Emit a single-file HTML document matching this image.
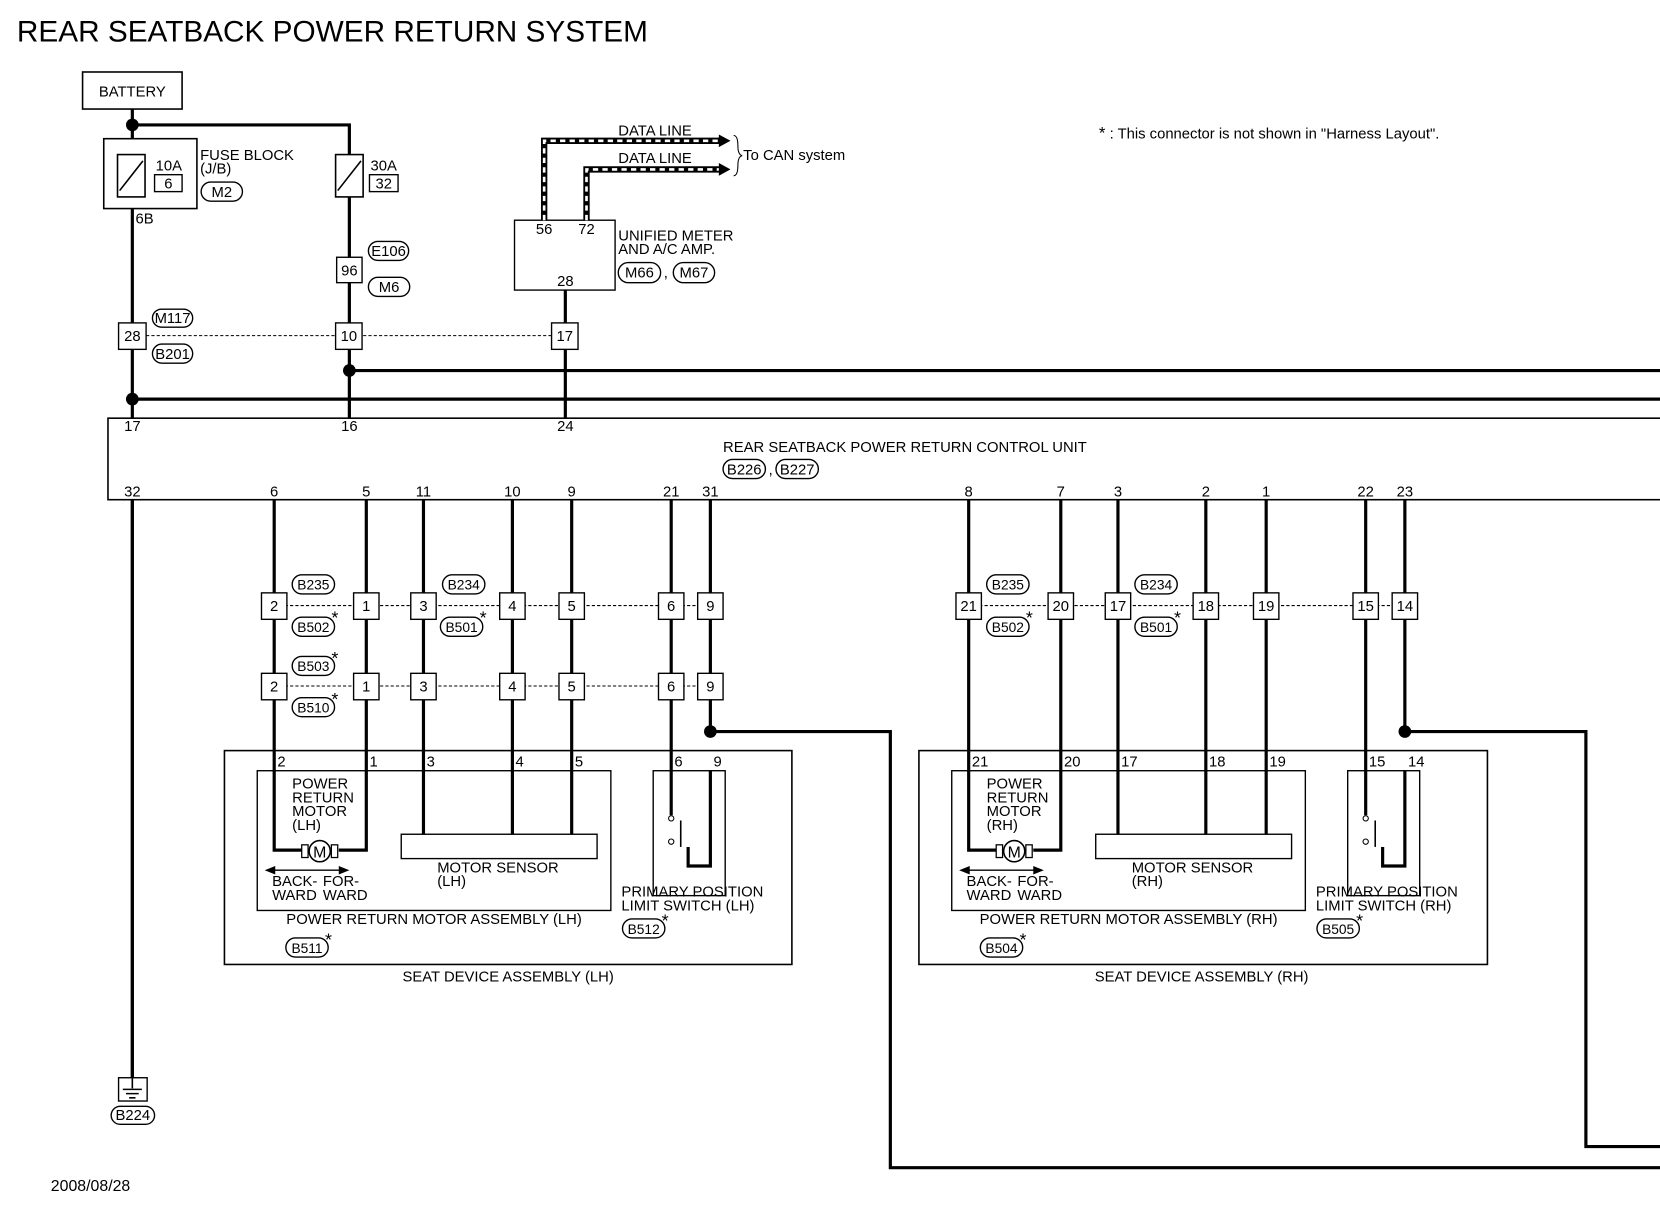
<!DOCTYPE html>
<html><head><meta charset="utf-8"><style>
html,body{margin:0;padding:0;background:#fff}
svg{display:block}
text{font-family:"Liberation Sans",sans-serif;fill:#000}
</style></head><body>
<svg width="1660" height="1216" viewBox="0 0 1568 1148.6" preserveAspectRatio="none" xmlns="http://www.w3.org/2000/svg">
<g font-size="14">
<text x="16" y="39" font-size="28" textLength="596" lengthAdjust="spacingAndGlyphs">REAR SEATBACK POWER RETURN SYSTEM</text>
<!-- battery -->
<rect x="78" y="68" width="94" height="35" fill="none" stroke="#000" stroke-width="1.5"/>
<text x="125" y="91" text-anchor="middle">BATTERY</text>
<g stroke="#000" stroke-width="3" fill="none">
<path d="M125 103 V1018"/>
<path d="M125 118 H330 V395"/>
<path d="M330 350 H1568"/>
<path d="M125 377 H1568"/>
<path d="M534 274 V395"/>
<path d="M671 472 V691 H841 V1103 H1568"/>
<path d="M1327 472 V691 H1498 V1083 H1568"/>
</g>
<circle cx="125" cy="118" r="6"/><circle cx="330" cy="350" r="6"/><circle cx="125" cy="377" r="6"/>
<circle cx="671" cy="691" r="6"/><circle cx="1327" cy="691" r="6"/>
<!-- fuse block -->
<rect x="98" y="131" width="88" height="66" fill="#fff" stroke="#000" stroke-width="1.5"/>
<rect x="111" y="146" width="26" height="40" fill="#fff" stroke="#000" stroke-width="1.5"/>
<line x1="113" y1="180" x2="135" y2="152" stroke="#000" stroke-width="1.5"/>
<text x="147" y="161">10A</text>
<rect x="146" y="165" width="26" height="16" fill="none" stroke="#000" stroke-width="1.3"/><text x="159" y="178" text-anchor="middle">6</text>
<text x="189" y="151">FUSE BLOCK</text><text x="189" y="164">(J/B)</text>
<rect x="190" y="172" width="39" height="18" rx="9" fill="none" stroke="#000" stroke-width="1.3"/><text x="209.5" y="186" text-anchor="middle">M2</text>
<text x="128" y="211">6B</text>
<rect x="317" y="146" width="26" height="40" fill="#fff" stroke="#000" stroke-width="1.5"/>
<line x1="319" y1="180" x2="341" y2="152" stroke="#000" stroke-width="1.5"/>
<text x="350" y="161">30A</text>
<rect x="349" y="165" width="27" height="16" fill="none" stroke="#000" stroke-width="1.3"/><text x="362.5" y="178" text-anchor="middle">32</text>
<rect x="318" y="243" width="24" height="24" fill="#fff" stroke="#000" stroke-width="1.3"/><text x="330" y="260" text-anchor="middle">96</text>
<rect x="348" y="228" width="38" height="18" rx="9" fill="none" stroke="#000" stroke-width="1.3"/><text x="367" y="242" text-anchor="middle">E106</text>
<rect x="348" y="262" width="39" height="18" rx="9" fill="none" stroke="#000" stroke-width="1.3"/><text x="367.5" y="276" text-anchor="middle">M6</text>
<!-- row 317 -->
<line x1="138" y1="317" x2="521" y2="317" stroke="#000" stroke-width="1" stroke-dasharray="3,2"/>
<rect x="112" y="305" width="26" height="25" fill="#fff" stroke="#000" stroke-width="1.3"/><text x="125" y="322" text-anchor="middle">28</text>
<rect x="317" y="305" width="25" height="25" fill="#fff" stroke="#000" stroke-width="1.3"/><text x="329.5" y="322" text-anchor="middle">10</text>
<rect x="521" y="305" width="25" height="25" fill="#fff" stroke="#000" stroke-width="1.3"/><text x="533.5" y="322" text-anchor="middle">17</text>
<rect x="144" y="292" width="38" height="17" rx="8.5" fill="none" stroke="#000" stroke-width="1.3"/><text x="163" y="305" text-anchor="middle">M117</text>
<rect x="144" y="325" width="38" height="18" rx="9" fill="none" stroke="#000" stroke-width="1.3"/><text x="163" y="339" text-anchor="middle">B201</text>
<!-- unified meter -->
<rect x="486" y="208" width="95" height="66" fill="#fff" stroke="#000" stroke-width="1.3"/>
<text x="514" y="221" text-anchor="middle">56</text><text x="554" y="221" text-anchor="middle">72</text><text x="534" y="270" text-anchor="middle">28</text>
<text x="584" y="227">UNIFIED METER</text><text x="584" y="240">AND A/C AMP.</text>
<rect x="584" y="248" width="40" height="19" rx="9.5" fill="none" stroke="#000" stroke-width="1.3"/><text x="604" y="262" text-anchor="middle">M66</text>
<text x="627" y="262">,</text>
<rect x="636" y="248" width="39" height="19" rx="9.5" fill="none" stroke="#000" stroke-width="1.3"/><text x="655.5" y="262" text-anchor="middle">M67</text>
<!-- data lines -->
<path d="M514 208 V133 H680" fill="none" stroke="#000" stroke-width="6"/>
<path d="M514 208 V133 H680" fill="none" stroke="#fff" stroke-width="2.5" stroke-dasharray="5,4"/>
<path d="M554 208 V160 H680" fill="none" stroke="#000" stroke-width="6"/>
<path d="M554 208 V160 H680" fill="none" stroke="#fff" stroke-width="2.5" stroke-dasharray="5,4"/>
<path d="M679 127 L690 133 L679 139 z"/><path d="M679 154 L690 160 L679 166 z"/>
<text x="584" y="128">DATA LINE</text><text x="584" y="154">DATA LINE</text>
<path d="M693 128 Q697 128 697 138 Q697 146 701 147 Q697 148 697 156 Q697 166 693 166" fill="none" stroke="#000" stroke-width="1"/>
<text x="702" y="151">To CAN system</text>
<text x="1038" y="131"><tspan font-size="16">*</tspan> : This connector is not shown in "Harness Layout".</text>
<!-- control unit -->
<rect x="102" y="395" width="1480" height="77" fill="#fff" stroke="#000" stroke-width="1.5"/>
<text x="125" y="407" text-anchor="middle">17</text><text x="330" y="407" text-anchor="middle">16</text><text x="534" y="407" text-anchor="middle">24</text>
<text x="683" y="427">REAR SEATBACK POWER RETURN CONTROL UNIT</text>
<rect x="683" y="434" width="40" height="18" rx="9" fill="none" stroke="#000" stroke-width="1.3"/><text x="703" y="448" text-anchor="middle">B226</text>
<text x="726" y="448">,</text>
<rect x="733" y="434" width="40" height="18" rx="9" fill="none" stroke="#000" stroke-width="1.3"/><text x="753" y="448" text-anchor="middle">B227</text>
<g text-anchor="middle">
<text x="125" y="469">32</text><text x="259" y="469">6</text><text x="346" y="469">5</text><text x="400" y="469">11</text><text x="484" y="469">10</text><text x="540" y="469">9</text><text x="634" y="469">21</text><text x="671" y="469">31</text>
<text x="915" y="469">8</text><text x="1002" y="469">7</text><text x="1056" y="469">3</text><text x="1139" y="469">2</text><text x="1196" y="469">1</text><text x="1290" y="469">22</text><text x="1327" y="469">23</text>
</g>
<!-- ground -->
<path d="M125 472 V1018" stroke="#000" stroke-width="3"/>
<rect x="112" y="1018" width="27" height="22" fill="#fff" stroke="#000" stroke-width="1.3"/>
<path d="M125 1018 V1028 M116 1029 H134 M119 1033 H131 M122 1037 H128" stroke="#000" stroke-width="1.5"/>
<rect x="105" y="1045" width="41" height="17" rx="8.5" fill="none" stroke="#000" stroke-width="1.3"/><text x="125.5" y="1058" text-anchor="middle">B224</text>
<text x="48" y="1125" font-size="15">2008/08/28</text>

<g stroke="#000" stroke-width="3" fill="none">
<path d="M259 472 V803 H285"/><path d="M346 472 V803 H320"/>
<path d="M400 472 V788"/><path d="M484 472 V788"/><path d="M540 472 V788"/>
<path d="M634 472 V770"/>
<path d="M915 472 V803 H941"/><path d="M1002 472 V803 H976"/>
<path d="M1056 472 V788"/><path d="M1139 472 V788"/><path d="M1196 472 V788"/>
<path d="M1290 472 V770"/>
</g>
<g stroke="#000" stroke-width="1" stroke-dasharray="3,2">
<line x1="259" y1="572" x2="671" y2="572"/><line x1="259" y1="648" x2="671" y2="648"/>
<line x1="915" y1="572" x2="1327" y2="572"/>
</g>
<g fill="#fff" stroke="#000" stroke-width="1.3">
<rect x="247" y="560" width="24" height="25"/><rect x="334" y="560" width="24" height="25"/><rect x="388" y="560" width="24" height="25"/><rect x="472" y="560" width="24" height="25"/><rect x="528" y="560" width="24" height="25"/><rect x="622" y="560" width="24" height="25"/><rect x="659" y="560" width="24" height="25"/>
<rect x="247" y="636" width="24" height="25"/><rect x="334" y="636" width="24" height="25"/><rect x="388" y="636" width="24" height="25"/><rect x="472" y="636" width="24" height="25"/><rect x="528" y="636" width="24" height="25"/><rect x="622" y="636" width="24" height="25"/><rect x="659" y="636" width="24" height="25"/>
<rect x="903" y="560" width="24" height="25"/><rect x="990" y="560" width="24" height="25"/><rect x="1044" y="560" width="24" height="25"/><rect x="1127" y="560" width="24" height="25"/><rect x="1184" y="560" width="24" height="25"/><rect x="1278" y="560" width="24" height="25"/><rect x="1315" y="560" width="24" height="25"/>
</g>
<g text-anchor="middle">
<text x="259" y="577">2</text><text x="346" y="577">1</text><text x="400" y="577">3</text><text x="484" y="577">4</text><text x="540" y="577">5</text><text x="634" y="577">6</text><text x="671" y="577">9</text>
<text x="259" y="653">2</text><text x="346" y="653">1</text><text x="400" y="653">3</text><text x="484" y="653">4</text><text x="540" y="653">5</text><text x="634" y="653">6</text><text x="671" y="653">9</text>
<text x="915" y="577">21</text><text x="1002" y="577">20</text><text x="1056" y="577">17</text><text x="1139" y="577">18</text><text x="1196" y="577">19</text><text x="1290" y="577">15</text><text x="1327" y="577">14</text>
</g>
<g fill="none" stroke="#000" stroke-width="1.3">
<rect x="276" y="543" width="40" height="18" rx="9"/><rect x="276" y="583" width="40" height="18" rx="9"/><rect x="418" y="543" width="40" height="18" rx="9"/><rect x="416" y="583" width="40" height="18" rx="9"/>
<rect x="276" y="620" width="40" height="18" rx="9"/><rect x="276" y="659" width="40" height="18" rx="9"/>
<rect x="932" y="543" width="40" height="18" rx="9"/><rect x="932" y="583" width="40" height="18" rx="9"/><rect x="1072" y="543" width="40" height="18" rx="9"/><rect x="1072" y="583" width="40" height="18" rx="9"/>
</g>
<g text-anchor="middle" font-size="13">
<text x="296" y="557">B235</text><text x="296" y="597">B502</text><text x="438" y="557">B234</text><text x="436" y="597">B501</text>
<text x="296" y="634">B503</text><text x="296" y="673">B510</text>
<text x="952" y="557">B235</text><text x="952" y="597">B502</text><text x="1092" y="557">B234</text><text x="1092" y="597">B501</text>
</g>
<g font-size="17">
<text x="313" y="589">*</text><text x="453" y="589">*</text><text x="313" y="627">*</text><text x="313" y="666">*</text>
<text x="969" y="589">*</text><text x="1109" y="589">*</text>
</g>

<g>
<rect x="212" y="709" width="536" height="202" fill="none" stroke="#000" stroke-width="1.5"/>
<rect x="243" y="728" width="334" height="132" fill="none" stroke="#000" stroke-width="1.3"/>
<rect x="379" y="788" width="185" height="23" fill="#fff" stroke="#000" stroke-width="1.3"/>
<rect x="617" y="728" width="68" height="118" fill="none" stroke="#000" stroke-width="1.3"/>
<circle cx="302" cy="804" r="10" fill="#fff" stroke="#000" stroke-width="1.5"/>
<rect x="285" y="798" width="6" height="12" fill="#fff" stroke="#000" stroke-width="1.2"/><rect x="313" y="798" width="6" height="12" fill="#fff" stroke="#000" stroke-width="1.2"/>
<text x="302" y="810" text-anchor="middle" font-size="15">M</text>
<line x1="258" y1="822" x2="322" y2="822" stroke="#000" stroke-width="1.3"/>
<path d="M250 822 L260 818 L260 826 z M330 822 L320 818 L320 826 z"/>
<circle cx="634" cy="773" r="2.5" fill="#fff" stroke="#000"/><circle cx="634" cy="795" r="2.5" fill="#fff" stroke="#000"/>
<path d="M643 775 V800" stroke="#000" stroke-width="1.5"/>
<path d="M671 728 V818 H650 V800" fill="none" stroke="#000" stroke-width="3"/>
</g>
<g transform="translate(656,0)">
<rect x="212" y="709" width="537" height="202" fill="none" stroke="#000" stroke-width="1.5"/>
<rect x="243" y="728" width="334" height="132" fill="none" stroke="#000" stroke-width="1.3"/>
<rect x="379" y="788" width="185" height="23" fill="#fff" stroke="#000" stroke-width="1.3"/>
<rect x="617" y="728" width="68" height="118" fill="none" stroke="#000" stroke-width="1.3"/>
<circle cx="302" cy="804" r="10" fill="#fff" stroke="#000" stroke-width="1.5"/>
<rect x="285" y="798" width="6" height="12" fill="#fff" stroke="#000" stroke-width="1.2"/><rect x="313" y="798" width="6" height="12" fill="#fff" stroke="#000" stroke-width="1.2"/>
<text x="302" y="810" text-anchor="middle" font-size="15">M</text>
<line x1="258" y1="822" x2="322" y2="822" stroke="#000" stroke-width="1.3"/>
<path d="M250 822 L260 818 L260 826 z M330 822 L320 818 L320 826 z"/>
<circle cx="634" cy="773" r="2.5" fill="#fff" stroke="#000"/><circle cx="634" cy="795" r="2.5" fill="#fff" stroke="#000"/>
<path d="M643 775 V800" stroke="#000" stroke-width="1.5"/>
<path d="M671 728 V818 H650 V800" fill="none" stroke="#000" stroke-width="3"/>
</g>
<text x="262" y="724">2</text><text x="349" y="724">1</text><text x="403" y="724">3</text><text x="487" y="724">4</text><text x="543" y="724">5</text><text x="637" y="724">6</text><text x="674" y="724">9</text>
<text x="276" y="745">POWER</text><text x="276" y="758">RETURN</text><text x="276" y="771">MOTOR</text><text x="276" y="784">(LH)</text>
<text x="257" y="837">BACK-</text><text x="305" y="837">FOR-</text><text x="257" y="850">WARD</text><text x="305" y="850">WARD</text>
<text x="413" y="824">MOTOR SENSOR</text><text x="413" y="837">(LH)</text>
<text x="587" y="847">PRIMARY POSITION</text><text x="587" y="860">LIMIT SWITCH (LH)</text>
<text x="410" y="873" text-anchor="middle">POWER RETURN MOTOR ASSEMBLY (LH)</text>
<rect x="270" y="886" width="40" height="18" rx="9" fill="none" stroke="#000" stroke-width="1.3"/><text x="290" y="900" text-anchor="middle" font-size="13">B511</text><text x="307" y="893" font-size="17">*</text>
<rect x="588" y="868" width="40" height="18" rx="9" fill="none" stroke="#000" stroke-width="1.3"/><text x="608" y="882" text-anchor="middle" font-size="13">B512</text><text x="625" y="875" font-size="17">*</text>
<text x="480" y="927" text-anchor="middle">SEAT DEVICE ASSEMBLY (LH)</text>
<text x="918" y="724">21</text><text x="1005" y="724">20</text><text x="1059" y="724">17</text><text x="1142" y="724">18</text><text x="1199" y="724">19</text><text x="1293" y="724">15</text><text x="1330" y="724">14</text>
<text x="932" y="745">POWER</text><text x="932" y="758">RETURN</text><text x="932" y="771">MOTOR</text><text x="932" y="784">(RH)</text>
<text x="913" y="837">BACK-</text><text x="961" y="837">FOR-</text><text x="913" y="850">WARD</text><text x="961" y="850">WARD</text>
<text x="1069" y="824">MOTOR SENSOR</text><text x="1069" y="837">(RH)</text>
<text x="1243" y="847">PRIMARY POSITION</text><text x="1243" y="860">LIMIT SWITCH (RH)</text>
<text x="1066" y="873" text-anchor="middle">POWER RETURN MOTOR ASSEMBLY (RH)</text>
<rect x="926" y="886" width="40" height="18" rx="9" fill="none" stroke="#000" stroke-width="1.3"/><text x="946" y="900" text-anchor="middle" font-size="13">B504</text><text x="963" y="893" font-size="17">*</text>
<rect x="1244" y="868" width="40" height="18" rx="9" fill="none" stroke="#000" stroke-width="1.3"/><text x="1264" y="882" text-anchor="middle" font-size="13">B505</text><text x="1281" y="875" font-size="17">*</text>
<text x="1135" y="927" text-anchor="middle">SEAT DEVICE ASSEMBLY (RH)</text>
</g>
</svg>
</body></html>
